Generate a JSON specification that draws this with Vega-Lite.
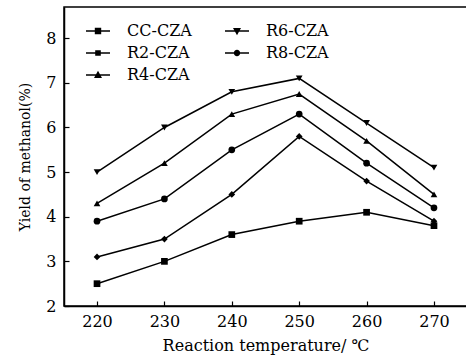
{
  "$schema": "https://vega.github.io/schema/vega-lite/v6.json",
  "width": 403,
  "height": 299,
  "autosize": "none",
  "padding": {"left": 64, "top": 7, "right": 0, "bottom": 56},
  "background": "white",
  "config": {
    "view": {"stroke": "black", "strokeWidth": 1.5},
    "font": "DejaVu Serif",
    "axis": {"grid": false, "domainColor": "black", "domainWidth": 1.5, "tickColor": "black", "tickWidth": 1.2, "labelFont": "DejaVu Serif", "labelFontSize": 16, "labelColor": "black", "titleFont": "DejaVu Serif", "titleFontSize": 16, "titleFontWeight": "normal", "titleColor": "black"}
  },
  "data": {"values": [
    {"T": 220, "y": 2.5, "s": "CC-CZA"}, {"T": 230, "y": 3.0, "s": "CC-CZA"}, {"T": 240, "y": 3.6, "s": "CC-CZA"}, {"T": 250, "y": 3.9, "s": "CC-CZA"}, {"T": 260, "y": 4.1, "s": "CC-CZA"}, {"T": 270, "y": 3.8, "s": "CC-CZA"},
    {"T": 220, "y": 3.1, "s": "R2-CZA"}, {"T": 230, "y": 3.5, "s": "R2-CZA"}, {"T": 240, "y": 4.5, "s": "R2-CZA"}, {"T": 250, "y": 5.8, "s": "R2-CZA"}, {"T": 260, "y": 4.8, "s": "R2-CZA"}, {"T": 270, "y": 3.9, "s": "R2-CZA"},
    {"T": 220, "y": 4.3, "s": "R4-CZA"}, {"T": 230, "y": 5.2, "s": "R4-CZA"}, {"T": 240, "y": 6.3, "s": "R4-CZA"}, {"T": 250, "y": 6.75, "s": "R4-CZA"}, {"T": 260, "y": 5.7, "s": "R4-CZA"}, {"T": 270, "y": 4.5, "s": "R4-CZA"},
    {"T": 220, "y": 5.0, "s": "R6-CZA"}, {"T": 230, "y": 6.0, "s": "R6-CZA"}, {"T": 240, "y": 6.8, "s": "R6-CZA"}, {"T": 250, "y": 7.1, "s": "R6-CZA"}, {"T": 260, "y": 6.1, "s": "R6-CZA"}, {"T": 270, "y": 5.1, "s": "R6-CZA"},
    {"T": 220, "y": 3.9, "s": "R8-CZA"}, {"T": 230, "y": 4.4, "s": "R8-CZA"}, {"T": 240, "y": 5.5, "s": "R8-CZA"}, {"T": 250, "y": 6.3, "s": "R8-CZA"}, {"T": 260, "y": 5.2, "s": "R8-CZA"}, {"T": 270, "y": 4.2, "s": "R8-CZA"}
  ]},
  "encoding": {
    "x": {"field": "T", "type": "quantitative", "scale": {"domain": [215.1, 274.9], "nice": false, "zero": false},
      "axis": {"values": [220, 230, 240, 250, 260, 270], "tickSize": -5, "labelPadding": 12, "title": "Reaction temperature/ ℃", "titlePadding": 8}},
    "y": {"field": "y", "type": "quantitative", "scale": {"domain": [2, 8.7], "nice": false, "zero": false},
      "axis": {"values": [2, 3, 4, 5, 6, 7, 8], "tickSize": -5, "labelPadding": 13, "title": "Yield of methanol(%)", "titleFontSize": 14, "titlePadding": 13}}
  },
  "layer": [
    {"mark": {"type": "line", "color": "black", "strokeWidth": 1.5},
     "encoding": {"detail": {"field": "s"}}},
    {"mark": {"type": "point", "filled": true, "color": "black", "size": 45, "opacity": 1},
     "encoding": {"shape": {"field": "s", "type": "nominal",
        "scale": {"domain": ["CC-CZA", "R2-CZA", "R4-CZA", "R6-CZA", "R8-CZA"], "range": ["square", "diamond", "triangle-up", "triangle-down", "circle"]},
        "legend": null}}},
    {"mark": {"type": "point", "filled": true, "color": "black", "size": 0, "opacity": 1},
     "encoding": {"shape": {"field": "s", "type": "nominal",
        "scale": {"domain": ["CC-CZA", "R2-CZA", "R4-CZA", "R6-CZA", "R8-CZA"],
          "range": [
            "M-1.2,-0.075H-0.32V-0.32H0.32V-0.075H1.2V0.075H0.32V0.32H-0.32V0.075H-1.2Z",
            "M-1.2,-0.075H-0.28V-0.28H0.28V-0.075H1.2V0.075H0.28V0.28H-0.28V0.075H-1.2Z",
            "M-1.2,-0.075H1.2V0.075H-1.2Z M0,-0.42L0.4,0.3L-0.4,0.3Z",
            "M-1.2,-0.075H1.2V0.075H-1.2Z M0,0.42L-0.4,-0.3L0.4,-0.3Z",
            "M-1.2,-0.075H1.2V0.075H-1.2Z M-0.32,0A0.32,0.32 0 1,1 0.32,0A0.32,0.32 0 1,1 -0.32,0Z"]},
        "legend": {"orient": "none", "legendX": 24, "legendY": 14, "columns": 2, "title": null, "symbolSize": 400, "symbolFillColor": "black", "symbolStrokeColor": "black", "symbolStrokeWidth": 0, "labelFont": "DejaVu Serif", "labelFontSize": 16, "labelColor": "black", "labelOffset": 19, "columnPadding": 33, "rowPadding": 4}}}}
  ],
  "resolve": {"scale": {"shape": "independent"}}
}
